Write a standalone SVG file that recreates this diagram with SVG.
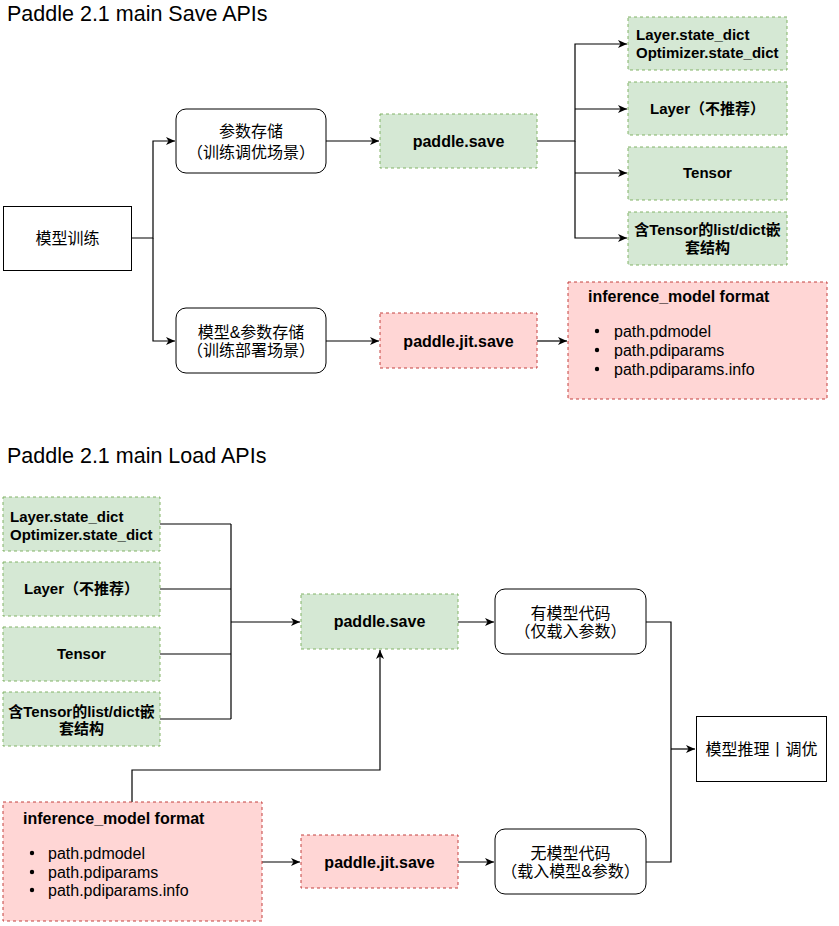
<svg xmlns="http://www.w3.org/2000/svg" width="839" height="926" viewBox="0 0 839 926">
<defs>
<marker id="arr" markerWidth="10" markerHeight="10" refX="9" refY="4" orient="auto" markerUnits="userSpaceOnUse"><path d="M0,0 L9,4 L0,8 L2.5,4 z" fill="#000"/></marker>
<style>
.title{font-family:"Liberation Sans","Noto Sans CJK SC",sans-serif;font-size:21.5px;fill:#000}
.t{font-family:"Liberation Sans","Noto Sans CJK SC",sans-serif;font-size:16px;fill:#000}
.c{text-anchor:middle}
.b{font-weight:bold}
.s15{font-size:15px}
.plain{fill:#fff;stroke:#000;stroke-width:1}
.green{fill:#d5e8d4;stroke:#82b366;stroke-width:1;stroke-dasharray:3 3}
.red{fill:#ffd6d5;stroke:#c4413e;stroke-width:1;stroke-dasharray:3 3}
.ln{fill:none;stroke:#000;stroke-width:1.2}
.ar{marker-end:url(#arr)}
</style>
</defs>
<rect width="839" height="926" fill="#fff"/>
<text class="title" x="7" y="21">Paddle 2.1 main Save APIs</text>
<text class="title" x="7" y="463">Paddle 2.1 main Load APIs</text>

<g id="connectors">
<path class="ln ar" d="M132 238 H153 V141 H175"/>
<path class="ln ar" d="M153 238 V341 H175"/>
<path class="ln ar" d="M326 141 H379"/>
<path class="ln ar" d="M537 141 H575 V44 H627"/>
<path class="ln ar" d="M575 141 V238 H627"/>
<path class="ln ar" d="M575 109 H627"/>
<path class="ln ar" d="M575 173 H627"/>
<path class="ln ar" d="M326 341 H379"/>
<path class="ln ar" d="M537 341 H567"/>
<path class="ln" d="M160 524 H231 M160 589 H231 M160 654 H231 M160 719 H231 M231 524 V719"/>
<path class="ln ar" d="M231 622 H300"/>
<path class="ln ar" d="M132 802 V770 H380 V650"/>
<path class="ln ar" d="M262 862 H300"/>
<path class="ln ar" d="M458 622 H494"/>
<path class="ln ar" d="M458 862 H494"/>
<path class="ln" d="M646 622 H671 V862 H646"/>
<path class="ln ar" d="M671 749 H695"/>
</g>

<g id="n-train">
<rect class="plain" x="3.5" y="206.5" width="128" height="64"/>
<text class="t c" x="67.5" y="244">模型训练</text>
</g>
<g id="n-param-store">
<rect class="plain" x="176" y="109" width="150" height="64" rx="10"/>
<text class="t c" x="251" y="137">参数存储</text>
<text class="t c" x="251" y="158">（训练调优场景）</text>
</g>
<g id="n-save-top">
<rect class="green" x="380" y="114" width="157" height="54"/>
<text class="t c b" x="458.5" y="146.5">paddle.save</text>
</g>
<g id="n-statedict-top">
<rect class="green" x="628" y="17" width="159" height="53"/>
<text class="t b s15" x="636" y="40">Layer.state_dict</text>
<text class="t b s15" x="636" y="57.5">Optimizer.state_dict</text>
</g>
<g id="n-layer-top">
<rect class="green" x="628" y="82" width="159" height="53"/>
<text class="t c b s15" x="707.5" y="114">Layer（不推荐）</text>
</g>
<g id="n-tensor-top">
<rect class="green" x="628" y="147" width="159" height="53"/>
<text class="t c b s15" x="707.5" y="178">Tensor</text>
</g>
<g id="n-nested-top">
<rect class="green" x="628" y="212" width="159" height="53"/>
<text class="t c b s15" x="707.5" y="235">含Tensor的list/dict嵌</text>
<text class="t c b s15" x="707.5" y="253">套结构</text>
</g>
<g id="n-model-store">
<rect class="plain" x="176" y="308" width="150" height="65" rx="10"/>
<text class="t c" x="251" y="338">模型&amp;参数存储</text>
<text class="t c" x="251" y="356">（训练部署场景）</text>
</g>
<g id="n-jitsave-top">
<rect class="red" x="380" y="313" width="157" height="55"/>
<text class="t c b" x="458.5" y="346.5">paddle.jit.save</text>
</g>
<g id="n-infer-top">
<rect class="red" x="568" y="282" width="259" height="117"/>
<text class="t b" x="588" y="302">inference_model format</text>
<circle cx="597" cy="331" r="2.2"/>
<circle cx="597" cy="350" r="2.2"/>
<circle cx="597" cy="369" r="2.2"/>
<text class="t" x="614" y="336.5">path.pdmodel</text>
<text class="t" x="614" y="355.5">path.pdiparams</text>
<text class="t" x="614" y="374.5">path.pdiparams.info</text>
</g>

<g id="n-statedict-bot">
<rect class="green" x="3" y="497" width="157" height="54"/>
<text class="t b s15" x="10" y="522">Layer.state_dict</text>
<text class="t b s15" x="10" y="540">Optimizer.state_dict</text>
</g>
<g id="n-layer-bot">
<rect class="green" x="3" y="562" width="157" height="54"/>
<text class="t c b s15" x="81.5" y="594">Layer（不推荐）</text>
</g>
<g id="n-tensor-bot">
<rect class="green" x="3" y="627" width="157" height="54"/>
<text class="t c b s15" x="81.5" y="659">Tensor</text>
</g>
<g id="n-nested-bot">
<rect class="green" x="3" y="692" width="157" height="54"/>
<text class="t c b s15" x="81.5" y="717">含Tensor的list/dict嵌</text>
<text class="t c b s15" x="81.5" y="734">套结构</text>
</g>
<g id="n-save-bot">
<rect class="green" x="301" y="594" width="157" height="55"/>
<text class="t c b" x="379.5" y="627">paddle.save</text>
</g>
<g id="n-with-code">
<rect class="plain" x="495" y="589" width="151" height="65" rx="10"/>
<text class="t c" x="570.5" y="619">有模型代码</text>
<text class="t c" x="570.5" y="637">（仅载入参数）</text>
</g>
<g id="n-infer-bot">
<rect class="red" x="3" y="802" width="259" height="119"/>
<text class="t b" x="23" y="824">inference_model format</text>
<circle cx="32" cy="853" r="2.2"/>
<circle cx="32" cy="872" r="2.2"/>
<circle cx="32" cy="890" r="2.2"/>
<text class="t" x="48" y="858.5">path.pdmodel</text>
<text class="t" x="48" y="877.5">path.pdiparams</text>
<text class="t" x="48" y="895.5">path.pdiparams.info</text>
</g>
<g id="n-jitsave-bot">
<rect class="red" x="301" y="835" width="157" height="53"/>
<text class="t c b" x="379.5" y="867.5">paddle.jit.save</text>
</g>
<g id="n-no-code">
<rect class="plain" x="495" y="829" width="151" height="65" rx="10"/>
<text class="t c" x="570.5" y="859">无模型代码</text>
<text class="t c" x="570.5" y="877">（载入模型&amp;参数）</text>
</g>
<g id="n-infer-tune">
<rect class="plain" x="696.5" y="716.5" width="130" height="65"/>
<text class="t c" x="761.5" y="755">模型推理丨调优</text>
</g>
</svg>
